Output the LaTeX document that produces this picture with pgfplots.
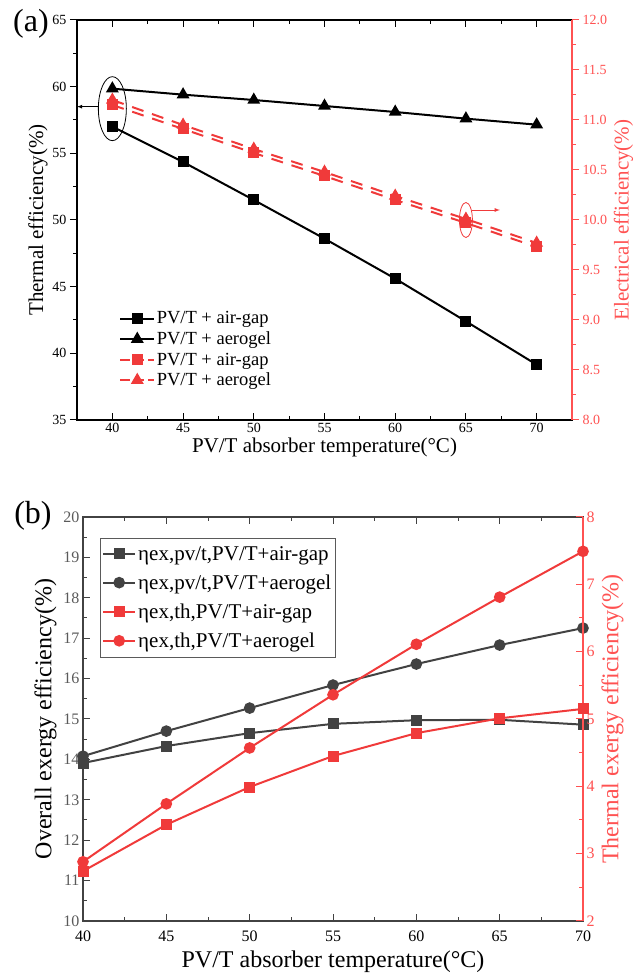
\documentclass[border=0pt]{standalone}
\usepackage{fontspec}
\setmainfont{Liberation Serif}
\usepackage{pgfplots}
\pgfplotsset{compat=1.18}
\definecolor{myred}{RGB}{240,58,58}
\definecolor{axred}{RGB}{255,82,82}
\definecolor{dgray}{RGB}{66,66,66}
\definecolor{lgray}{RGB}{90,90,90}

\pgfplotsset{
  common/.style={
    scale only axis,
    /pgf/number format/assume math mode=true,
    axis line style={line width=1.2pt},
    major tick length=7pt, minor tick length=4pt,
    every tick/.style={line width=1pt},
  },
}
\newcommand{\lfa}{\fontsize{18.5}{20}\selectfont}
\newcommand{\lfb}{\fontsize{21}{24}\selectfont}

\begin{document}
\begin{tikzpicture}
\path[use as bounding box] (0pt,0pt) rectangle (644pt,977pt);

%================ panel (a) =================
% frame + x axis
\begin{axis}[common,
  at={(77pt,557pt)}, anchor=south west, width=495pt, height=400pt,
  xmin=37.5, xmax=72.5, ymin=35, ymax=65,
  xtick={40,45,...,70}, minor x tick num=1, ytick=\empty,
  tick align=inside,
  xticklabel style={font=\fontsize{14}{14}\selectfont},
  xlabel={PV/T absorber temperature(°C)},
  xlabel style={font=\fontsize{21}{21}\selectfont, yshift=2pt},
]
\end{axis}
% right y axis (electrical)
\begin{axis}[common,
  at={(77pt,557pt)}, anchor=south west, width=495pt, height=400pt,
  xmin=37.5, xmax=72.5, ymin=8, ymax=12,
  axis y line*=right, axis x line=none,
  ytick={8,8.5,...,12}, minor y tick num=1,
  tick align=outside,
  y axis line style={axred},
  every tick/.append style={axred},
  yticklabel style={font=\fontsize{14}{14}\selectfont, text=axred,
    /pgf/number format/.cd, fixed, fixed zerofill, precision=1},
  ylabel={Electrical efficiency(\%)},
  ylabel style={font=\fontsize{21}{21}\selectfont, text=axred},
  clip=false,
]
\addplot[myred, line width=2pt, dash pattern=on 12pt off 9pt, mark=square*, mark size=4.5pt, mark options={solid}] coordinates {
(40,11.15) (45,10.91) (50,10.67) (55,10.44) (60,10.20) (65,9.97) (70,9.73)};
\addplot[myred, line width=2pt, dash pattern=on 12pt off 9pt, mark=triangle*, mark size=5.5pt, mark options={solid}] coordinates {
(40,11.20) (45,10.95) (50,10.71) (55,10.48) (60,10.24) (65,10.01) (70,9.77)};
\draw[myred, line width=0.8pt] (axis cs:65,10.0) ellipse [x radius=6.5pt, y radius=17.5pt];
\draw[myred, line width=0.8pt, -latex] (axis cs:65.45,10.1) -- (axis cs:67.4,10.1);
\end{axis}
% left y axis (thermal)
\begin{axis}[common,
  at={(77pt,557pt)}, anchor=south west, width=495pt, height=400pt,
  xmin=37.5, xmax=72.5, ymin=35, ymax=65,
  axis y line*=left, axis x line=none,
  ytick={35,40,...,65}, minor y tick num=1,
  tick align=outside,
  yticklabel style={font=\fontsize{14}{14}\selectfont},
  ylabel={Thermal efficiency(\%)},
  ylabel style={font=\fontsize{21}{21}\selectfont, yshift=-2pt},
  clip=false,
  legend style={draw=none, fill=none, at={(0.085,0.275)}, anchor=north west,
    row sep=3.5pt, inner sep=0pt, nodes={inner sep=1.5pt, font=\lfa}},
  legend cell align=left,
  legend image code/.code={\draw[mark repeat=2,mark phase=2] plot coordinates {(0pt,0pt) (17pt,0pt) (34pt,0pt)};},
]
\addplot[black, line width=2pt, mark=square*, mark size=4.5pt] coordinates {
(40,57.0) (45,54.35) (50,51.5) (55,48.6) (60,45.6) (65,42.4) (70,39.15)};
\addlegendentry{\lfa PV/T + air-gap}
\addplot[black, line width=2pt, mark=triangle*, mark size=5.5pt] coordinates {
(40,59.85) (45,59.4) (50,59.0) (55,58.55) (60,58.1) (65,57.6) (70,57.15)};
\addlegendentry{\lfa PV/T + aerogel}
\addlegendimage{myred, line width=2pt, dash pattern=on 10pt off 4pt, mark=square*, mark size=4.5pt, mark options={solid}}
\addlegendentry{\lfa PV/T + air-gap}
\addlegendimage{myred, line width=2pt, dash pattern=on 10pt off 4pt, mark=triangle*, mark size=5.5pt, mark options={solid}}
\addlegendentry{\lfa PV/T + aerogel}
\draw[black, line width=0.8pt] (axis cs:40,58.35) ellipse [x radius=14pt, y radius=32pt];
\draw[black, line width=0.8pt, -latex] (axis cs:39.0,58.5) -- (axis cs:37.5,58.5);
\end{axis}
\node[font=\fontsize{32}{32}\selectfont, anchor=center] at (31pt,953pt) {(a)};

%================ panel (b) =================
\begin{axis}[common,
  at={(83pt,56pt)}, anchor=south west, width=500pt, height=404pt,
  xmin=40, xmax=70, ymin=10, ymax=20,
  xtick={40,45,...,70}, minor x tick num=1,
  ytick={10,11,...,20}, minor y tick num=1, ytick pos=left,
  tick align=inside,
  axis line style={dgray},
  every tick/.append style={dgray},
  xticklabel style={font=\fontsize{16}{16}\selectfont, text=black, yshift=-6pt},
  yticklabel style={font=\fontsize{16}{16}\selectfont, text=lgray},
  xlabel={PV/T absorber temperature(°C)},
  xlabel style={font=\fontsize{24}{24}\selectfont, yshift=-3pt},
  ylabel={Overall exergy efficiency(\%)},
  ylabel style={font=\fontsize{24}{24}\selectfont},
  clip=false,
]
\addplot[dgray, line width=2pt, mark=square*, mark size=4.5pt] coordinates {
(40,13.91) (45,14.33) (50,14.65) (55,14.88) (60,14.97) (65,14.98) (70,14.86)};
\addplot[dgray, line width=2pt, mark=*, mark size=4.8pt] coordinates {
(40,14.08) (45,14.70) (50,15.27) (55,15.84) (60,16.36) (65,16.83) (70,17.25)};
\end{axis}
\begin{axis}[common,
  at={(83pt,56pt)}, anchor=south west, width=500pt, height=404pt,
  xmin=40, xmax=70, ymin=2, ymax=8,
  axis y line*=right, axis x line=none,
  ytick={2,3,...,8}, minor y tick num=1,
  tick align=inside,
  y axis line style={axred},
  every tick/.append style={axred},
  yticklabel style={font=\fontsize{16}{16}\selectfont, text=axred},
  ylabel={Thermal exergy efficiency(\%)},
  ylabel style={font=\fontsize{24}{24}\selectfont, text=axred},
  clip=false,
  legend style={font=\lfb, draw=lgray, fill=white, at={(0.034,0.948)}, anchor=north west,
    row sep=9pt, inner xsep=2pt, inner ysep=6pt},
  legend cell align=left,
  legend image code/.code={\draw[mark repeat=2,mark phase=2] plot coordinates {(0pt,0pt) (16pt,0pt) (32pt,0pt)};},
]
\addlegendimage{dgray, line width=2pt, mark=square*, mark size=4.5pt}
\addlegendentry{\lfb ηex,pv/t,PV/T+air-gap}
\addlegendimage{dgray, line width=2pt, mark=*, mark size=4.8pt}
\addlegendentry{\lfb ηex,pv/t,PV/T+aerogel}
\addplot[myred, line width=2pt, mark=square*, mark size=4.5pt] coordinates {
(40,2.74) (45,3.43) (50,3.99) (55,4.45) (60,4.79) (65,5.01) (70,5.15)};
\addlegendentry{\lfb ηex,th,PV/T+air-gap}
\addplot[myred, line width=2pt, mark=*, mark size=4.8pt] coordinates {
(40,2.88) (45,3.74) (50,4.57) (55,5.36) (60,6.11) (65,6.81) (70,7.49)};
\addlegendentry{\lfb ηex,th,PV/T+aerogel}
\end{axis}
\node[font=\fontsize{32}{32}\selectfont, anchor=center] at (33pt,461pt) {(b)};
\end{tikzpicture}
\end{document}
